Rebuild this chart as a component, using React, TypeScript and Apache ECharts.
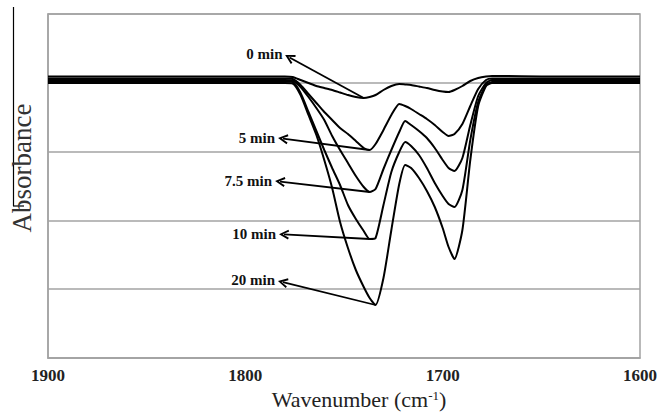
import React, { useEffect, useRef } from 'react';
import * as echarts from 'echarts';

// Wavenumber grid (cm-1) shared by every spectrum
const wavenumbers = [
  1900, 1850, 1800, 1780, 1776, 1772, 1768, 1764, 1760, 1756,
  1752, 1748, 1744, 1740, 1737, 1734, 1730, 1726, 1722, 1719,
  1716, 1712, 1708, 1704, 1700, 1697, 1694, 1690, 1686, 1682,
  1678, 1675, 1670, 1650, 1600,
];

// Absorbance (arbitrary units) for each reaction time
const abs0min = [
  281.5, 281.5, 281.5, 281.5, 281, 278, 275, 272, 270, 268,
  265.5, 263, 261, 260, 261, 263, 268, 272, 274, 273.5,
  273, 271.5, 270, 268, 266.5, 266, 268, 272, 277, 280,
  281.5, 282, 282, 281.5, 281.5,
];
const abs5min = [
  279.5, 279.5, 279.5, 279.5, 279, 273, 264, 255, 246, 238,
  230, 224, 217, 210, 208, 214, 228, 243, 254, 252,
  249, 244, 239, 233, 226, 222, 224, 234, 252, 269,
  278, 279.5, 279.5, 279.5, 279.5,
];
const abs7_5min = [
  278, 278, 278, 278, 277.5, 271, 261, 250, 238, 222,
  208, 195, 182, 171, 166, 169, 189, 208, 226, 237,
  233, 227, 220, 210, 198, 190, 187, 200, 233, 262,
  275, 278, 278, 278, 278,
];
const abs10min = [
  276.5, 276.5, 276.5, 276.5, 276, 265, 246, 227, 208, 190,
  173, 153, 139, 127, 119, 120, 153, 186, 206, 216,
  212, 203, 190, 175, 162, 154, 151, 168, 218, 256,
  273, 276, 276.5, 276.5, 276.5,
];
const abs20min = [
  275, 275, 275, 275, 274.5, 263, 243, 223, 198, 170,
  136, 110, 88, 71, 60, 53, 80, 128, 174, 193,
  190, 180, 167, 151, 130, 111, 99, 128, 198, 252,
  272, 275, 275, 275, 275,
];

const seriesNames = ['0 min', '5 min', '7.5 min', '10 min', '20 min'];
const seriesValues = [abs0min, abs5min, abs7_5min, abs10min, abs20min];

// Where each annotation arrow starts (wavenumber, absorbance)
const labelAnchors = [
  [1777.6, 300.5],
  [1780.9, 219.3],
  [1782.4, 176.4],
  [1780.4, 123.6],
  [1781.0, 75.8],
];

const xMin = 1600;
const xMax = 1900;
const xInterval = 100;
const yMin = 0;
const yMax = 344;
const yInterval = 68.8;

const serif = "'Liberation Serif', 'Times New Roman', Times, serif";
const gridGray = '#a3a3a3';
const arrowPath = 'path://M5,0 L10,9 L8.2,9.8 L5,3.6 L1.8,9.8 L0,9 Z';

export default function App() {
  const ref = useRef<HTMLDivElement>(null);

  useEffect(() => {
    if (!ref.current) return;
    const chart = echarts.init(ref.current, null, { renderer: 'svg' });

    const series = seriesValues.map((vals, i) => {
      let mi = 0;
      vals.forEach((v, j) => {
        if (v < vals[mi]) mi = j;
      });
      return {
        name: seriesNames[i],
        type: 'line',
        data: wavenumbers.map((w, j) => [w, vals[j]]),
        symbol: 'none',
        showSymbol: false,
        smooth: 0.2,
        lineStyle: { color: '#000', width: 2 },
        emphasis: { disabled: true },
        z: 3,
        markLine: {
          silent: true,
          animation: false,
          symbol: [arrowPath, 'none'],
          symbolSize: 10,
          lineStyle: { color: '#000', width: 1.8, type: 'solid' },
          label: {
            show: true,
            position: 'start',
            distance: 8,
            formatter: '{b}',
            fontFamily: serif,
            fontWeight: 'bold',
            fontSize: 15,
            color: '#111',
          },
          emphasis: { disabled: true },
          data: [
            [
              { name: seriesNames[i], coord: labelAnchors[i] },
              { coord: [wavenumbers[mi], vals[mi]] },
            ],
          ],
        },
      };
    });

    chart.setOption({
      animation: false,
      backgroundColor: '#fff',
      grid: {
        left: 48,
        right: 17,
        top: 14,
        bottom: 57,
        outerBoundsMode: 'none',
        containLabel: false,
        show: true,
        borderColor: gridGray,
        borderWidth: 1.5,
        backgroundColor: '#fff',
      },
      xAxis: {
        type: 'value',
        min: xMin,
        max: xMax,
        interval: xInterval,
        inverse: true,
        axisLine: { show: true, lineStyle: { color: gridGray, width: 1.5 } },
        axisTick: { show: false },
        splitLine: { show: false },
        axisLabel: {
          margin: 9,
          fontSize: 17,
          fontWeight: 'bold',
          fontFamily: serif,
          color: '#222',
          formatter: (v: number) => String(v),
        },
        name: 'Wavenumber (cm{sup|-1})',
        nameLocation: 'middle',
        nameGap: 30,
        nameTextStyle: {
          fontSize: 22,
          fontFamily: serif,
          color: '#222',
          padding: [0, 0, 0, 30],
          rich: {
            sup: {
              fontSize: 13,
              fontFamily: serif,
              color: '#222',
              padding: [0, 0, 9, 0],
            },
          },
        },
      },
      yAxis: {
        type: 'value',
        min: yMin,
        max: yMax,
        interval: yInterval,
        axisLabel: { show: false },
        axisTick: { show: false },
        axisLine: { show: true, lineStyle: { color: gridGray, width: 1.5 } },
        splitLine: { show: true, lineStyle: { color: gridGray, width: 1.5 } },
        name: 'Absorbance',
        nameLocation: 'middle',
        nameRotate: 90,
        nameGap: 13,
        nameTextStyle: {
          fontSize: 27,
          fontFamily: serif,
          color: '#333',
          padding: [0, 0, 0, 36],
        },
      },
      graphic: [
        {
          type: 'line',
          shape: { x1: 13.5, y1: 7, x2: 13.5, y2: 206 },
          style: { stroke: '#000', lineWidth: 1.2 },
          silent: true,
        },
        {
          type: 'line',
          shape: { x1: 13, y1: 206, x2: 24, y2: 206 },
          style: { stroke: '#000', lineWidth: 1.2 },
          silent: true,
        },
      ],
      series,
    });

    return () => {
      chart.dispose();
    };
  }, []);

  return (
    <div
      ref={ref}
      style={{ position: 'absolute', left: 0, top: 0, width: 657, height: 415 }}
    />
  );
}
